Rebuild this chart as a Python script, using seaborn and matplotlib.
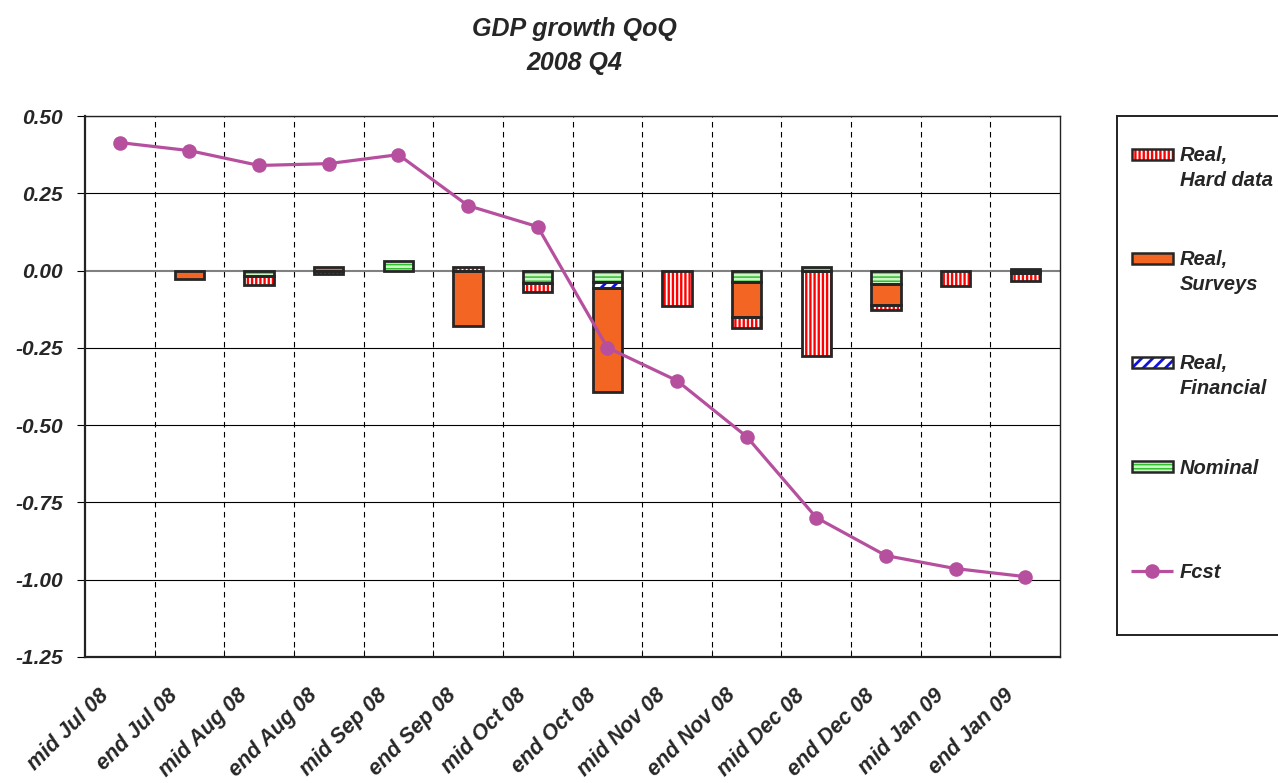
import numpy as np
import matplotlib
matplotlib.use('Agg')
import matplotlib.pyplot as plt
from matplotlib.patches import Rectangle
from matplotlib.transforms import ScaledTranslation
import seaborn as sns

categories = ['mid Jul 08', 'end Jul 08', 'mid Aug 08', 'end Aug 08', 'mid Sep 08',
              'end Sep 08', 'mid Oct 08', 'end Oct 08', 'mid Nov 08', 'end Nov 08',
              'mid Dec 08', 'end Dec 08', 'mid Jan 09', 'end Jan 09']
nominal   = [0, 0, -0.017, 0, 0.030, 0, -0.040, -0.038, 0, -0.038, 0.010, -0.045, 0, -0.008]
financial = [0, 0, 0, 0, 0, 0, 0, -0.018, 0, 0, 0, 0, 0, 0]
surveys   = [0, -0.027, 0, 0.011, 0, -0.180, 0, -0.336, 0, -0.113, 0, -0.066, 0, 0.006]
hard_data = [0, 0, -0.031, -0.010, 0, 0.010, -0.030, 0, -0.113, -0.034, -0.275, -0.015, -0.050, -0.027]
fcst = [0.414, 0.388, 0.340, 0.346, 0.375, 0.210, 0.142, -0.249, -0.356, -0.537,
        -0.799, -0.922, -0.964, -0.990]

sns.set_style('white')
plt.rcParams['font.family'] = ['Liberation Sans', 'DejaVu Sans']
plt.rcParams['font.weight'] = 'bold'
plt.rcParams['font.style'] = 'italic'
plt.rcParams['axes.unicode_minus'] = False
plt.rcParams['hatch.linewidth'] = 1.7

W, H = 1278, 783
fig = plt.figure(figsize=(W / 100, H / 100), dpi=100)
ax = fig.add_axes([85 / W, (H - 657) / H, 975 / W, 541 / H])


def set_hlw(patches, lw):
    for p in patches:
        if hasattr(p, 'set_hatch_linewidth'):
            p.set_hatch_linewidth(lw)


# stacking order from zero outward: name, values, face, hatch colour, hatch, hatch lw
components = [
    ('Nominal', nominal, '#cdf6c6', '#2fbf2f', '----', 1.1),
    ('Real,\nFinancial', financial, 'white', '#1010e0', '///', 2.0),
    ('Real,\nSurveys', surveys, '#f26522', None, None, 1.0),
    ('Real,\nHard data', hard_data, 'white', '#ff0000', '||||', 1.7),
]
edge = '#262626'
bw = 0.42
x = np.arange(len(categories))
pos = np.zeros(len(x))
neg = np.zeros(len(x))
for name, vals, face, hcol, hatch, hlw in components:
    v = np.array(vals, dtype=float)
    m = v != 0
    bottom = np.where(v >= 0, pos, neg)
    if hatch:
        bars = ax.bar(x[m], v[m], bottom=bottom[m], width=bw, color=face, hatch=hatch,
                      edgecolor=hcol, linewidth=0, zorder=3)
        set_hlw(bars, hlw)
    else:
        ax.bar(x[m], v[m], bottom=bottom[m], width=bw, color=face, linewidth=0, zorder=3)
    ax.bar(x[m], v[m], bottom=bottom[m], width=bw, fill=False, edgecolor=edge,
           linewidth=2.0, zorder=4)
    pos = pos + np.where(v > 0, v, 0)
    neg = neg + np.where(v < 0, v, 0)

line_col = '#b6509e'
sns.lineplot(x=x, y=fcst, color=line_col, marker='o', markersize=10.5, linewidth=2.3,
             markeredgewidth=0, ax=ax, zorder=5)

# grid
yt = np.arange(-1.25, 0.51, 0.25)
for y in yt:
    if abs(y) < 1e-9:
        ax.axhline(y, color='#808080', lw=1.5, zorder=2)
    else:
        ax.axhline(y, color='black', lw=0.8, zorder=1)
bounds = np.arange(0.5, len(categories) - 0.5)
ax.vlines(bounds, -1.25, 0.5, colors='black', linestyles=(0, (5, 4)), lw=0.8, zorder=1)

ax.set_xlim(-0.5, len(categories) - 0.5)
ax.set_ylim(-1.25, 0.5)
ax.set_yticks(yt)
ax.set_yticklabels([f'{v:.2f}' for v in yt], fontsize=15)
ax.set_xticks(x)
ax.set_xticks(bounds, minor=True)
ax.tick_params(axis='x', which='major', length=0, pad=20)
ax.tick_params(axis='x', which='minor', direction='in', length=5, color='black', bottom=True)
ax.tick_params(axis='y', length=6, color='black', left=True, direction='out', pad=10)
ax.set_xticklabels(categories, rotation=45, ha='right', va='top', rotation_mode='anchor',
                   fontsize=15.5)
shift = ScaledTranslation(-22 / 100, 0, fig.dpi_scale_trans)
for lab in ax.get_xticklabels():
    lab.set_transform(lab.get_transform() + shift)
for s in ax.spines.values():
    s.set_color('#222222')
    s.set_linewidth(1.0)
ax.spines['left'].set_linewidth(1.6)
ax.spines['bottom'].set_linewidth(1.6)
ax.set_xlabel('')
ax.set_ylabel('')

fig.text(574 / W, 1 - 29 / H, 'GDP growth QoQ', ha='center', va='center', fontsize=18)
fig.text(574 / W, 1 - 63 / H, '2008 Q4', ha='center', va='center', fontsize=18)

# legend panel
lax = fig.add_axes([1117 / W, (H - 635) / H, 175 / W, 519 / H])
lax.set_xlim(0, 175)
lax.set_ylim(519, 0)
lax.set_xticks([])
lax.set_yticks([])
for s in lax.spines.values():
    s.set_color('#222222')
    s.set_linewidth(1.4)
entries = [('Real,\nHard data', 39), ('Real,\nSurveys', 143), ('Real,\nFinancial', 247),
           ('Nominal', 351)]
styles = {c[0]: c[2:] for c in components}
for name, yc in entries:
    face, hcol, hatch, hlw = styles[name]
    if hatch:
        p = lax.add_patch(Rectangle((15, yc - 6), 41, 11, facecolor=face, hatch=hatch,
                                    edgecolor=hcol, linewidth=0))
        set_hlw([p], hlw)
    else:
        lax.add_patch(Rectangle((15, yc - 6), 41, 11, facecolor=face, linewidth=0))
    lax.add_patch(Rectangle((15, yc - 6), 41, 11, fill=False, edgecolor=edge, linewidth=1.8))
    if '\n' in name:
        l1, l2 = name.split('\n')
        lax.text(63, yc + 1, l1, va='center', ha='left', fontsize=14.5)
        lax.text(63, yc + 26, l2, va='center', ha='left', fontsize=14.5)
    else:
        lax.text(63, yc + 1, name, va='center', ha='left', fontsize=14.5)
lax.plot([14, 56], [455, 455], color=line_col, lw=2.3, solid_capstyle='butt')
lax.plot([35], [455], 'o', color=line_col, markersize=10.5, markeredgewidth=0)
lax.text(63, 456, 'Fcst', va='center', ha='left', fontsize=14.5)

fig.savefig('out.png', dpi=100)
